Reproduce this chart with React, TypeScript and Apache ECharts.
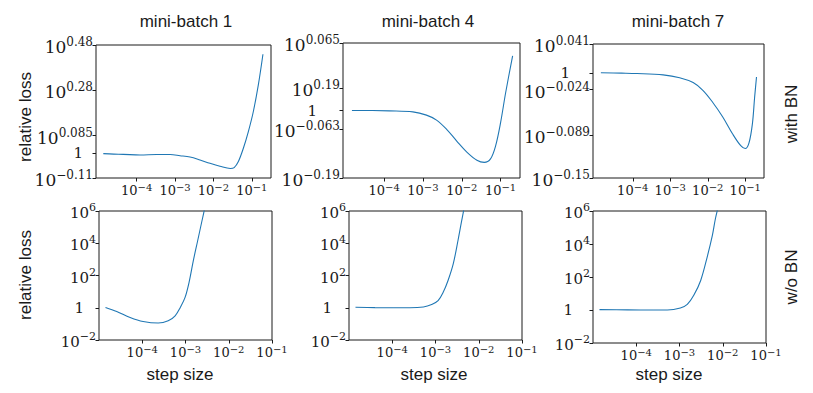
import React, { useEffect, useRef } from "react";
import * as echarts from "echarts";

// x = log10(step size), y = log10(relative loss)
const bn1Step = [-4.87, -4.6, -4.35, -3.91, -3.48, -3.13, -2.87, -2.61, -2.35, -2.09, -1.83, -1.56, -1.46, -1.35, -1.22, -1.09, -0.96, -0.83, -0.71];
const bn1Loss = [-0.002, -0.004, -0.005, -0.008, -0.006, -0.006, -0.011, -0.017, -0.03, -0.045, -0.058, -0.068, -0.064, -0.037, 0.022, 0.096, 0.185, 0.303, 0.439];

const bn4Step = [-4.83, -4.3, -3.87, -3.26, -2.91, -2.65, -2.39, -2.13, -1.87, -1.61, -1.42, -1.26, -1.13, -1.0, -0.87, -0.69];
const bn4Loss = [0, 0, -0.001, -0.004, -0.013, -0.027, -0.053, -0.086, -0.117, -0.14, -0.146, -0.136, -0.1, -0.034, 0.05, 0.154];

const bn7Step = [-4.85, -4.3, -3.89, -3.19, -2.75, -2.39, -2.13, -1.87, -1.6, -1.34, -1.12, -1.0, -0.9, -0.81, -0.75, -0.7];
const bn7Loss = [0, -0.0005, -0.001, -0.003, -0.007, -0.014, -0.025, -0.042, -0.063, -0.087, -0.104, -0.108, -0.1, -0.073, -0.035, -0.006];

const nobn1Step = [-4.85, -4.59, -4.28, -3.98, -3.63, -3.4, -3.24, -3.12, -3.01, -2.91, -2.82, -2.72, -2.62, -2.52];
const nobn1Loss = [0.02, -0.23, -0.6, -0.85, -0.95, -0.81, -0.5, 0.02, 0.64, 1.67, 2.91, 4.14, 5.38, 6.6];

const nobn4Step = [-4.85, -4.4, -3.98, -3.59, -3.28, -3.09, -2.94, -2.82, -2.71, -2.59, -2.48, -2.4, -2.33];
const nobn4Loss = [0.03, 0.01, 0, 0, 0.05, 0.2, 0.44, 0.97, 1.69, 2.72, 4.17, 5.32, 6.3];

const nobn7Step = [-4.85, -4.2, -3.6, -3.28, -2.98, -2.82, -2.67, -2.51, -2.36, -2.24, -2.17, -2.1];
const nobn7Loss = [0.02, 0.01, 0, 0, 0.12, 0.34, 0.89, 1.79, 3.21, 4.52, 5.53, 6.3];

const titles = ["mini-batch 1", "mini-batch 4", "mini-batch 7"];
const rowLabels = ["with BN", "w/o BN"];

const xTicks = [-4, -3, -2, -1];
const xTickExp = ["\u22124", "\u22123", "\u22122", "\u22121"];

// top row y ticks (positions, exponent labels; null = "1")
const bnYTicks = [
  [0.48, 0.28, 0.078, 0, -0.11],
  [0.19, 0.062, 0, -0.053, -0.19],
  [0.041, 0, -0.024, -0.089, -0.15],
];
const bnYExp = [
  ["0.48", "0.28", "0.085", null, "\u22120.11"],
  ["0.065", "0.19", null, "\u22120.063", "\u22120.19"],
  ["0.041", null, "\u22120.024", "\u22120.089", "\u22120.15"],
];
const bnYRange = [
  [-0.11, 0.48],
  [-0.19, 0.19],
  [-0.15, 0.041],
];

const nobnYTicks = [-2, 0, 2, 4, 6];
const nobnYExp = ["\u22122", null, "2", "4", "6"];

const topGrids = [
  { left: 96, top: 45, width: 175, height: 133 },
  { left: 343, top: 43, width: 177, height: 135 },
  { left: 593, top: 44, width: 171, height: 134 },
];
const botGrids = [
  { left: 99, top: 211, width: 173, height: 129 },
  { left: 349, top: 211, width: 173, height: 129 },
  { left: 593, top: 211, width: 173, height: 132 },
];
// extra right gap of the plain "1" label in each panel
const topOneGap = [10, 23, 20];
const botOneGap = [12, 14, 17];

const SERIF = "'DejaVu Serif', 'Liberation Serif', serif";
const SANS = "'Liberation Sans', Arial, sans-serif";
const BLUE = "#1f77b4";
const INK = "#1a1a1a";

function makeFormatter(ticks: number[], exps: (string | null)[]) {
  return (v: number) => {
    const i = ticks.findIndex((t) => Math.abs(t - v) < 1e-6);
    if (i < 0) return "";
    const e = exps[i];
    return e === null ? "{one|1}" : `{b|10}{s|${e}}`;
  };
}

function yRich(size: number, sup: number, oneGap: number) {
  return {
    b: { fontFamily: SERIF, fontSize: size, lineHeight: size, padding: [4, 0, 0, 0], color: INK },
    s: { fontFamily: SERIF, fontSize: sup, lineHeight: 18, verticalAlign: "top", color: INK },
    one: { fontFamily: SERIF, fontSize: 15, lineHeight: 9, padding: [0, oneGap, 0, 0], color: INK },
  };
}
const xRich = {
  b: { fontFamily: SERIF, fontSize: 13, lineHeight: 13, padding: [3, 0, 0, 0], color: INK },
  s: { fontFamily: SERIF, fontSize: 10, lineHeight: 9, verticalAlign: "top", color: INK },
};

export default function App() {
  const ref = useRef<HTMLDivElement>(null);
  useEffect(() => {
    if (!ref.current) return;
    const chart = echarts.init(ref.current, null, { renderer: "svg" });
    const grids: any[] = [];
    const xAxes: any[] = [];
    const yAxes: any[] = [];
    const series: any[] = [];
    const bnData = [
      [bn1Step, bn1Loss],
      [bn4Step, bn4Loss],
      [bn7Step, bn7Loss],
    ];
    const nobnData = [
      [nobn1Step, nobn1Loss],
      [nobn4Step, nobn4Loss],
      [nobn7Step, nobn7Loss],
    ];
    const addPanel = (
      g: any,
      xr: number[],
      yr: number[],
      yt: number[],
      ye: (string | null)[],
      ySize: number,
      ySup: number,
      oneGap: number,
      data: number[][]
    ) => {
      const idx = grids.length;
      grids.push({ ...g, show: true, borderColor: INK, borderWidth: 1, containLabel: false });
      xAxes.push({
        type: "value",
        gridIndex: idx,
        min: xr[0],
        max: xr[1],
        axisLine: { show: false, onZero: false },
        splitLine: { show: false },
        axisTick: { show: true, length: 3.5, customValues: xTicks, lineStyle: { color: INK, width: 1 } },
        axisLabel: {
          show: true,
          customValues: xTicks,
          margin: 4,
          formatter: makeFormatter(xTicks, xTickExp),
          rich: xRich,
        },
      });
      yAxes.push({
        type: "value",
        gridIndex: idx,
        min: yr[0],
        max: yr[1],
        axisLine: { show: false, onZero: false },
        splitLine: { show: false },
        axisTick: { show: true, length: 3.5, customValues: yt, lineStyle: { color: INK, width: 1 } },
        axisLabel: {
          show: true,
          customValues: yt,
          margin: 3,
          formatter: makeFormatter(yt, ye),
          rich: yRich(ySize, ySup, oneGap),
        },
      });
      series.push({
        type: "line",
        xAxisIndex: idx,
        yAxisIndex: idx,
        data: data[0].map((x, i) => [x, data[1][i]]),
        showSymbol: false,
        smooth: 0.35,
        clip: true,
        lineStyle: { color: BLUE, width: 1.1 },
      });
    };
    for (let i = 0; i < 3; i++) {
      addPanel(topGrids[i], [-5.06, -0.5], bnYRange[i], bnYTicks[i], bnYExp[i], 17, 12, topOneGap[i], bnData[i]);
    }
    for (let i = 0; i < 3; i++) {
      addPanel(botGrids[i], [-5, -1], [-2, 6], nobnYTicks, nobnYExp, 15, 11, botOneGap[i], nobnData[i]);
    }
    const txt = (text: string, x: number, y: number, size: number, rot = 0) => ({
      type: "text",
      x,
      y,
      rotation: rot,
      style: {
        text,
        fontFamily: SANS,
        fontSize: size,
        fill: INK,
        align: "center",
        verticalAlign: "middle",
      },
    });
    const graphic = [
      txt(titles[0], 186, 21, 17),
      txt(titles[1], 428, 21, 17),
      txt(titles[2], 678, 21, 17),
      txt("relative loss", 25, 117, 17, Math.PI / 2),
      txt("relative loss", 25, 275, 17, Math.PI / 2),
      txt("step size", 180, 374, 17),
      txt("step size", 434, 374, 17),
      txt("step size", 669, 374, 17),
      txt(rowLabels[0], 791, 114, 17, Math.PI / 2),
      txt(rowLabels[1], 791, 277, 17, Math.PI / 2),
    ];
    chart.setOption({
      animation: false,
      backgroundColor: "#ffffff",
      grid: grids,
      xAxis: xAxes,
      yAxis: yAxes,
      series,
      graphic,
    });
    return () => chart.dispose();
  }, []);
  return (
    <div
      ref={ref}
      style={{ position: "fixed", left: 0, top: 0, width: 813, height: 393 }}
    />
  );
}
